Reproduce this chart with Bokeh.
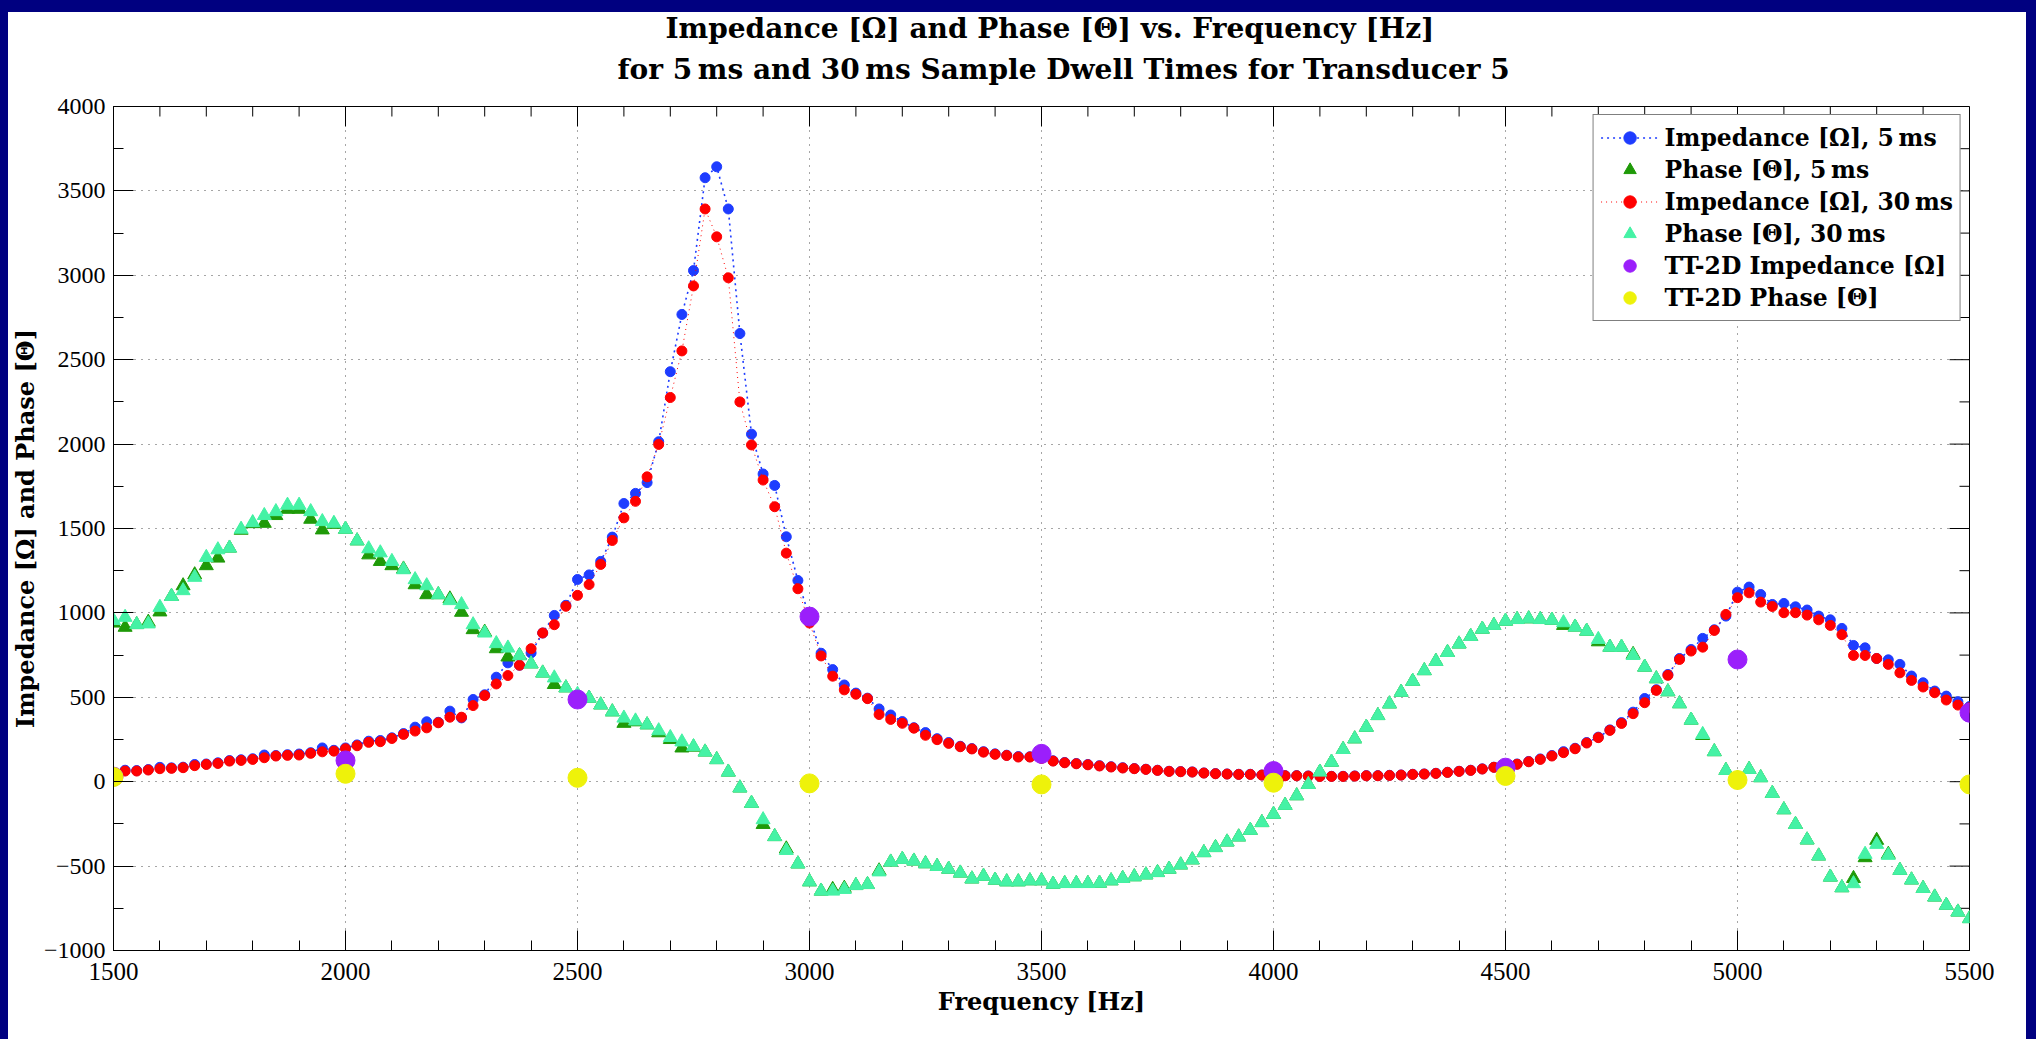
from bokeh.plotting import figure
from bokeh.models import Title, FixedTicker, Range1d, Div
from bokeh.layouts import column
from bokeh.embed import file_html
from bokeh.resources import INLINE

# ---------------- data ----------------
freq = list(range(1500, 5525, 25))  # sample frequencies [Hz], 25 Hz step

imp_5ms = [55, 68, 66, 72, 85, 82, 86, 102, 105, 112,
           125, 130, 136, 158, 155, 160, 164, 172, 200, 186,
           200, 218, 240, 244, 260, 285, 323, 355, 352, 418,
           378, 487, 515, 619, 704, 690, 763, 881, 985, 1045,
           1198, 1225, 1305, 1449, 1648, 1708, 1772, 2014, 2429, 2768,
           3028, 3578, 3643, 3393, 2655, 2059, 1823, 1755, 1451, 1192,
           975, 761, 664, 573, 525, 495, 431, 395, 356, 320,
           291, 255, 232, 210, 196, 178, 165, 157, 149, 148,
           140, 124, 114, 108, 102, 95, 89, 83, 78, 74,
           68, 62, 60, 58, 52, 48, 46, 44, 44, 40,
           41, 36, 36, 34, 32, 32, 32, 34, 36, 36,
           38, 40, 44, 46, 50, 56, 62, 68, 76, 86,
           93, 105, 120, 135, 155, 178, 198, 232, 264, 307,
           350, 412, 493, 545, 635, 730, 783, 849, 900, 981,
           1123, 1153, 1109, 1050, 1056, 1036, 1017, 981, 959, 908,
           807, 793, 730, 722, 695, 626, 586, 537, 507, 474,
           445]

phase_5ms = [940, 915, 931, 945, 1006, 1098, 1161, 1226, 1280, 1325,
             1384, 1490, 1529, 1531, 1577, 1614, 1614, 1555, 1492, 1525,
             1496, 1427, 1344, 1305, 1280, 1260, 1167, 1108, 1108, 1083,
             1004, 901, 886, 788, 739, 747, 698, 644, 576, 556,
             500, 495, 455, 414, 346, 355, 337, 290, 250, 200,
             205, 176, 131, 57, -37, -128, -253, -325, -398, -487,
             -593, -648, -638, -631, -615, -609, -528, -476, -460, -470,
             -486, -502, -518, -541, -576, -560, -583, -593, -593, -587,
             -587, -607, -603, -603, -603, -601, -587, -573, -563, -552,
             -538, -518, -493, -463, -420, -390, -357, -327, -288, -242,
             -193, -140, -83, -16, 57, 116, 191, 254, 323, 392,
             461, 530, 595, 658, 713, 766, 816, 861, 904, 926,
             951, 961, 965, 961, 957, 926, 916, 892, 829, 797,
             797, 754, 679, 610, 533, 462, 365, 274, 178, 67,
             20, 73, 24, -69, -166, -253, -345, -440, -565, -628,
             -573, -450, -347, -430, -525, -582, -632, -683, -732, -772,
             -811]

imp_30ms = [53, 63, 63, 69, 77, 79, 83, 95, 102, 108,
            122, 126, 132, 142, 152, 156, 158, 168, 177, 181,
            195, 213, 233, 237, 256, 280, 300, 319, 349, 382,
            382, 451, 510, 579, 629, 690, 788, 881, 930, 1039,
            1104, 1168, 1287, 1429, 1563, 1661, 1806, 1998, 2276, 2552,
            2937, 3393, 3228, 2985, 2250, 1995, 1787, 1629, 1354, 1143,
            940, 745, 625, 544, 518, 492, 398, 369, 346, 317,
            275, 249, 227, 207, 194, 175, 162, 155, 146, 146,
            138, 122, 112, 106, 100, 93, 87, 81, 77, 73,
            67, 61, 59, 57, 51, 47, 45, 43, 43, 39,
            40, 35, 35, 33, 31, 31, 31, 33, 35, 35,
            37, 39, 43, 45, 49, 55, 61, 67, 75, 85,
            92, 103, 118, 132, 152, 172, 195, 229, 261, 304,
            345, 403, 468, 541, 630, 724, 774, 797, 896, 991,
            1090, 1119, 1064, 1038, 1001, 1001, 987, 959, 926, 871,
            748, 748, 730, 695, 645, 600, 561, 527, 484, 454,
            438]

phase_30ms = [955, 974, 931, 935, 1033, 1098, 1132, 1211, 1329, 1374,
              1384, 1496, 1535, 1577, 1600, 1638, 1638, 1600, 1541, 1531,
              1496, 1427, 1380, 1356, 1305, 1256, 1197, 1161, 1108, 1073,
              1049, 930, 881, 818, 792, 747, 698, 644, 615, 556,
              518, 495, 455, 414, 377, 360, 337, 302, 262, 236,
              208, 176, 131, 57, -37, -128, -225, -325, -407, -487,
              -593, -648, -648, -638, -615, -609, -534, -476, -460, -470,
              -486, -502, -518, -541, -576, -560, -583, -593, -593, -587,
              -587, -607, -603, -603, -603, -601, -587, -573, -563, -552,
              -538, -518, -493, -463, -420, -390, -357, -327, -288, -242,
              -193, -140, -83, -16, 57, 116, 191, 254, 323, 392,
              461, 530, 595, 658, 713, 766, 816, 861, 904, 926,
              951, 961, 965, 961, 957, 942, 916, 892, 843, 797,
              797, 748, 679, 610, 533, 462, 365, 280, 178, 67,
              20, 73, 24, -69, -166, -253, -345, -440, -565, -628,
              -604, -430, -371, -436, -525, -582, -632, -683, -732, -772,
              -811]

tt_freq = [1500, 2000, 2500, 3000, 3500, 4000, 4500, 5000, 5500]
tt_imp = [30, 126, 487, 978, 165, 63, 83, 724, 409]
tt_phase = [28, 47, 23, -10, -16, -6, 34, 10, -16]

x_ticks = [1500, 2000, 2500, 3000, 3500, 4000, 4500, 5000, 5500]
y_ticks = [-1000, -500, 0, 500, 1000, 1500, 2000, 2500, 3000, 3500, 4000]
x_minor = list(range(1500, 5600, 100))
y_minor = list(range(-1000, 4250, 250))

# ---------------- figure ----------------
SERIF = "DejaVu Serif"
SANS = "Liberation Sans Narrow"

W, H = 2036, 1020
ML, MR, MT, MB = 113, 67, 106, 70
X0, X1, Y0, Y1 = 1500, 5500, -1000, 4000

p = figure(width=W, height=H, output_backend="svg", toolbar_location=None,
           x_range=Range1d(X0, X1), y_range=Range1d(Y0, Y1),
           min_border_left=ML, min_border_right=MR, min_border_top=MT, min_border_bottom=MB,
           background_fill_color="white", border_fill_color="white")
p.outline_line_color = "black"
p.outline_line_width = 1

xt = FixedTicker(ticks=x_ticks, minor_ticks=x_minor)
yt = FixedTicker(ticks=y_ticks, minor_ticks=y_minor)

for ax in (p.xaxis[0], p.yaxis[0]):
    ax.major_tick_in = 20
    ax.major_tick_out = 0
    ax.minor_tick_in = 10
    ax.minor_tick_out = 0
    ax.axis_line_color = "black"
    ax.major_tick_line_color = "black"
    ax.minor_tick_line_color = "black"
    ax.major_label_text_font = SANS
    ax.major_label_text_color = "black"
    ax.axis_label_text_font = SERIF
    ax.axis_label_text_font_style = "bold"
    ax.axis_label_text_font_size = "24px"
    ax.axis_label_text_color = "black"

p.xaxis[0].ticker = xt
p.yaxis[0].ticker = yt
p.xaxis[0].major_label_text_font_size = "25px"
p.yaxis[0].major_label_text_font_size = "24px"
p.xaxis[0].axis_label = "Frequency [Hz]"
p.yaxis[0].axis_label = "Impedance [\u03a9] and Phase [\u0398]"
p.xaxis[0].major_label_standoff = 12
p.yaxis[0].major_label_standoff = 8
p.xaxis[0].axis_label_standoff = 4
p.yaxis[0].axis_label_standoff = 1
p.yaxis[0].major_label_overrides = {-1000: "\u22121000", -500: "\u2212500"}

p.xgrid.ticker = xt
p.ygrid.ticker = yt
for g in (p.xgrid[0], p.ygrid[0]):
    g.grid_line_color = "#222222"
    g.grid_line_dash = "1 6"
    g.grid_line_width = 1
    g.grid_line_alpha = 0.8

# inward ticks on the top and right edges of the box (Matlab "box on")
fw = W - ML - MR
fh = H - MT - MB
dx_px = (X1 - X0) / fw
dy_px = (Y1 - Y0) / fh
x_minor_only = [v for v in x_minor if v not in x_ticks]
y_minor_only = [v for v in y_minor if v not in y_ticks]
p.segment(x0=x_ticks, y0=[Y1] * len(x_ticks), x1=x_ticks, y1=[Y1 - 20 * dy_px] * len(x_ticks),
          line_color="black", line_width=1)
p.segment(x0=x_minor_only, y0=[Y1] * len(x_minor_only), x1=x_minor_only,
          y1=[Y1 - 10 * dy_px] * len(x_minor_only), line_color="black", line_width=1)
p.segment(x0=[X1] * len(y_ticks), y0=y_ticks, x1=[X1 - 20 * dx_px] * len(y_ticks), y1=y_ticks,
          line_color="black", line_width=1)
p.segment(x0=[X1] * len(y_minor_only), y0=y_minor_only, x1=[X1 - 10 * dx_px] * len(y_minor_only),
          y1=y_minor_only, line_color="black", line_width=1)

# two-line title (second line added first: it sits nearest the frame)
p.add_layout(Title(text="for 5\u2009ms and 30\u2009ms Sample Dwell Times for Transducer 5", align="left",
                   offset=504, text_font=SERIF, text_font_style="bold", text_font_size="28px",
                   text_color="black", standoff=42), "above")
p.add_layout(Title(text="Impedance [\u03a9] and Phase [\u0398] vs. Frequency [Hz]", align="left",
                   offset=552, text_font=SERIF, text_font_style="bold", text_font_size="28px",
                   text_color="black", standoff=-31), "above")

BLUE = "#1e3cff"
GREEN = "#1f9a08"
RED = "#ff0000"
MINT = "#45f2a5"
PURPLE = "#9b1ffb"
YELLOW = "#eef20a"

p.line(freq, imp_5ms, line_color=BLUE, line_width=1.6, line_dash="2 4",
       legend_label="Impedance [\u03a9], 5\u2009ms")
p.scatter(freq, imp_5ms, marker="circle", size=10, fill_color=BLUE, line_color=BLUE,
          legend_label="Impedance [\u03a9], 5\u2009ms")
p.scatter(freq, phase_5ms, marker="triangle", size=14, fill_color=GREEN, line_color=GREEN,
          legend_label="Phase [\u0398], 5\u2009ms")
p.line(freq, imp_30ms, line_color=RED, line_width=1, line_dash="1 4",
       legend_label="Impedance [\u03a9], 30\u2009ms")
p.scatter(freq, imp_30ms, marker="circle", size=10, fill_color=RED, line_color=RED,
          legend_label="Impedance [\u03a9], 30\u2009ms")
p.scatter(freq, phase_30ms, marker="triangle", size=14, fill_color=MINT, line_color=MINT,
          legend_label="Phase [\u0398], 30\u2009ms")
p.scatter(tt_freq, tt_imp, marker="circle", size=19, fill_color=PURPLE, line_color=PURPLE,
          legend_label="TT-2D Impedance [\u03a9]")
p.scatter(tt_freq, tt_phase, marker="circle", size=19, fill_color=YELLOW, line_color=YELLOW,
          legend_label="TT-2D Phase [\u0398]")

lg = p.legend[0]
lg.location = "top_right"
lg.margin = 8
lg.padding = 7
lg.spacing = 1
lg.glyph_width = 58
lg.glyph_height = 31
lg.label_height = 31
lg.label_standoff = 6
lg.label_text_font = SERIF
lg.label_text_font_style = "bold"
lg.label_text_font_size = "23.5px"
lg.label_text_color = "black"
lg.border_line_color = "black"
lg.border_line_width = 1
lg.background_fill_color = "white"
lg.background_fill_alpha = 1.0

frame_div = Div(text=(
    '<div style="position:fixed;z-index:1000;left:0;top:0;width:8px;height:100vh;background:#000080"></div>'
    '<div style="position:fixed;z-index:1000;left:0;top:0;width:100%;height:12px;background:#000080"></div>'
    '<div style="position:fixed;z-index:1000;right:0;top:0;width:10px;height:100vh;background:#000080"></div>'),
    width=1, height=1)

layout = column(p, frame_div, spacing=0)

open("out.html", "w").write(file_html(layout, INLINE))
